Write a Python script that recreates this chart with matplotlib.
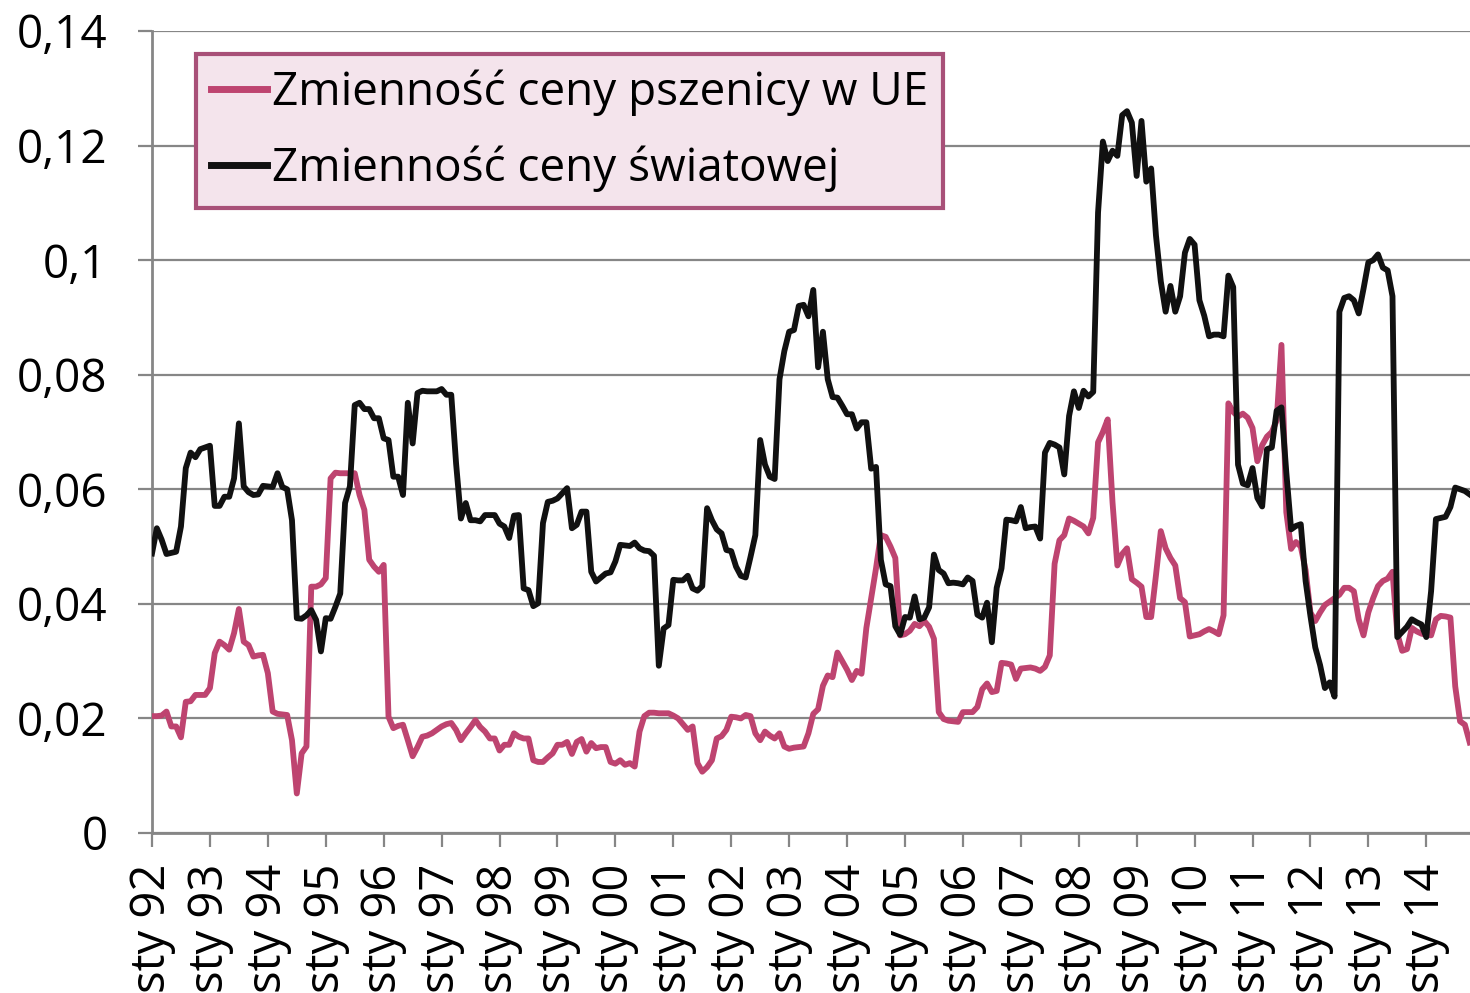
import numpy as np
import matplotlib
matplotlib.use("Agg")
from matplotlib import pyplot as plt

# miesięczne zmienności cen, sty 1992 - paź 2014
eu_vol = [
    0.0204, 0.0204, 0.0205, 0.0212, 0.0186, 0.0186, 0.0167, 0.0229, 0.0230, 0.0241, 0.0241, 0.0241,  # 92
    0.0253, 0.0314, 0.0334, 0.0328, 0.0320, 0.0349, 0.0391, 0.0334, 0.0328, 0.0308, 0.0310, 0.0311,  # 93
    0.0279, 0.0212, 0.0208, 0.0207, 0.0206, 0.0162, 0.0069, 0.0139, 0.0151, 0.0430, 0.0430, 0.0434,  # 94
    0.0445, 0.0619, 0.0629, 0.0628, 0.0628, 0.0628, 0.0628, 0.0590, 0.0564, 0.0477, 0.0465, 0.0456,  # 95
    0.0468, 0.0203, 0.0183, 0.0187, 0.0189, 0.0162, 0.0134, 0.0150, 0.0168, 0.0170, 0.0174, 0.0180,  # 96
    0.0186, 0.0190, 0.0192, 0.0180, 0.0162, 0.0174, 0.0185, 0.0197, 0.0185, 0.0177, 0.0165, 0.0165,  # 97
    0.0144, 0.0154, 0.0154, 0.0174, 0.0168, 0.0165, 0.0165, 0.0127, 0.0124, 0.0124, 0.0132, 0.0139,  # 98
    0.0154, 0.0154, 0.0159, 0.0138, 0.0159, 0.0164, 0.0142, 0.0157, 0.0148, 0.0150, 0.0150, 0.0124,  # 99
    0.0121, 0.0127, 0.0119, 0.0122, 0.0116, 0.0177, 0.0204, 0.0210, 0.0210, 0.0209, 0.0209, 0.0209,  # 00
    0.0205, 0.0200, 0.0190, 0.0180, 0.0186, 0.0122, 0.0107, 0.0115, 0.0127, 0.0165, 0.0169, 0.0180,  # 01
    0.0203, 0.0202, 0.0200, 0.0206, 0.0204, 0.0174, 0.0162, 0.0177, 0.0170, 0.0165, 0.0174, 0.0151,  # 02
    0.0147, 0.0149, 0.0150, 0.0151, 0.0174, 0.0208, 0.0216, 0.0257, 0.0275, 0.0272, 0.0315, 0.0300,  # 03
    0.0285, 0.0267, 0.0283, 0.0278, 0.0358, 0.0410, 0.0462, 0.0520, 0.0517, 0.0500, 0.0480, 0.0345,  # 04
    0.0347, 0.0353, 0.0365, 0.0361, 0.0370, 0.0360, 0.0339, 0.0211, 0.0199, 0.0196, 0.0195, 0.0194,  # 05
    0.0211, 0.0211, 0.0211, 0.0220, 0.0251, 0.0261, 0.0246, 0.0248, 0.0297, 0.0296, 0.0294, 0.0269,  # 06
    0.0287, 0.0288, 0.0289, 0.0287, 0.0283, 0.0290, 0.0310, 0.0470, 0.0511, 0.0520, 0.0549, 0.0545,  # 07
    0.0540, 0.0535, 0.0523, 0.0550, 0.0682, 0.0700, 0.0722, 0.0577, 0.0467, 0.0487, 0.0497, 0.0443,  # 08
    0.0437, 0.0430, 0.0377, 0.0377, 0.0450, 0.0527, 0.0497, 0.0480, 0.0467, 0.0410, 0.0403, 0.0343,  # 09
    0.0345, 0.0347, 0.0352, 0.0356, 0.0352, 0.0347, 0.0380, 0.0750, 0.0735, 0.0727, 0.0732, 0.0725,  # 10
    0.0707, 0.0649, 0.0677, 0.0692, 0.0700, 0.0720, 0.0852, 0.0560, 0.0496, 0.0508, 0.0500, 0.0459,  # 11
    0.0385, 0.0370, 0.0385, 0.0398, 0.0404, 0.0410, 0.0416, 0.0428, 0.0428, 0.0422, 0.0373, 0.0345,  # 12
    0.0385, 0.0410, 0.0431, 0.0440, 0.0444, 0.0456, 0.0348, 0.0318, 0.0321, 0.0358, 0.0352, 0.0348,  # 13
    0.0346, 0.0345, 0.0373, 0.0379, 0.0378, 0.0376, 0.0256, 0.0195, 0.0189, 0.0158,  # 14
]

world_vol = [
    0.0488, 0.0532, 0.0512, 0.0487, 0.0489, 0.0491, 0.0535, 0.0637, 0.0664, 0.0656, 0.0670, 0.0673,  # 92
    0.0676, 0.0571, 0.0571, 0.0587, 0.0587, 0.0619, 0.0715, 0.0605, 0.0595, 0.0590, 0.0591, 0.0606,  # 93
    0.0605, 0.0604, 0.0628, 0.0604, 0.0600, 0.0546, 0.0375, 0.0374, 0.0380, 0.0389, 0.0372, 0.0317,  # 94
    0.0375, 0.0374, 0.0395, 0.0418, 0.0576, 0.0605, 0.0747, 0.0751, 0.0740, 0.0740, 0.0724, 0.0724,  # 95
    0.0689, 0.0686, 0.0622, 0.0622, 0.0590, 0.0751, 0.0680, 0.0768, 0.0772, 0.0771, 0.0771, 0.0771,  # 96
    0.0775, 0.0765, 0.0765, 0.0645, 0.0549, 0.0576, 0.0546, 0.0546, 0.0544, 0.0555, 0.0555, 0.0555,  # 97
    0.0540, 0.0535, 0.0515, 0.0554, 0.0555, 0.0427, 0.0424, 0.0396, 0.0401, 0.0541, 0.0578, 0.0580,  # 98
    0.0584, 0.0593, 0.0602, 0.0532, 0.0538, 0.0561, 0.0561, 0.0456, 0.0439, 0.0446, 0.0453, 0.0455,  # 99
    0.0474, 0.0503, 0.0502, 0.0501, 0.0507, 0.0497, 0.0493, 0.0492, 0.0484, 0.0292, 0.0357, 0.0363,  # 00
    0.0442, 0.0441, 0.0441, 0.0449, 0.0427, 0.0423, 0.0431, 0.0567, 0.0546, 0.0530, 0.0523, 0.0494,  # 01
    0.0492, 0.0465, 0.0449, 0.0446, 0.0482, 0.0520, 0.0686, 0.0643, 0.0622, 0.0618, 0.0792, 0.0841,  # 02
    0.0875, 0.0878, 0.0920, 0.0922, 0.0902, 0.0948, 0.0813, 0.0875, 0.0792, 0.0761, 0.0760, 0.0746,  # 03
    0.0731, 0.0731, 0.0706, 0.0717, 0.0717, 0.0636, 0.0639, 0.0477, 0.0434, 0.0431, 0.0361, 0.0346,  # 04
    0.0377, 0.0376, 0.0413, 0.0373, 0.0376, 0.0394, 0.0486, 0.0459, 0.0453, 0.0436, 0.0437, 0.0436,  # 05
    0.0434, 0.0446, 0.0440, 0.0381, 0.0376, 0.0402, 0.0333, 0.0428, 0.0462, 0.0547, 0.0546, 0.0544,  # 06
    0.0569, 0.0532, 0.0534, 0.0535, 0.0514, 0.0664, 0.0681, 0.0678, 0.0673, 0.0626, 0.0728, 0.0771,  # 07
    0.0742, 0.0772, 0.0762, 0.0770, 0.1083, 0.1207, 0.1173, 0.1191, 0.1182, 0.1253, 0.1260, 0.1240,  # 08
    0.1147, 0.1243, 0.1137, 0.1160, 0.1043, 0.0963, 0.0910, 0.0955, 0.0910, 0.0937, 0.1013, 0.1037,  # 09
    0.1027, 0.0930, 0.0903, 0.0867, 0.0870, 0.0870, 0.0867, 0.0973, 0.0953, 0.0643, 0.0610, 0.0607,  # 10
    0.0637, 0.0585, 0.0570, 0.0670, 0.0673, 0.0737, 0.0743, 0.0630, 0.0530, 0.0536, 0.0539, 0.0440,  # 11
    0.0379, 0.0324, 0.0293, 0.0253, 0.0263, 0.0238, 0.0910, 0.0934, 0.0937, 0.0930, 0.0907, 0.0950,  # 12
    0.0996, 0.1000, 0.1010, 0.0987, 0.0982, 0.0937, 0.0342, 0.0351, 0.0360, 0.0373, 0.0368, 0.0364,  # 13
    0.0342, 0.0422, 0.0548, 0.0550, 0.0552, 0.0569, 0.0603, 0.0600, 0.0597, 0.0591,  # 14
]

x_labels = ["sty %02d" % (y % 100) for y in range(1992, 2015)]
y_ticks = [0, 0.02, 0.04, 0.06, 0.08, 0.1, 0.12, 0.14]
y_labels = ["0", "0,02", "0,04", "0,06", "0,08", "0,1", "0,12", "0,14"]

plt.rcParams['font.family'] = ['Open Sans', 'DejaVu Sans']

W, H = 1470, 993
fig = plt.figure(figsize=(W / 100, H / 100), dpi=100)
ax = fig.add_axes([152 / W, 1 - 833 / H, (W - 152) / W, (833 - 31) / H])

grey = '#868686'
months = np.arange(len(eu_vol))

ax.plot(months, eu_vol, color='#BE4470', lw=4.2, solid_joinstyle='round',
        label='Zmienność ceny pszenicy w UE', zorder=3)
ax.plot(months, world_vol, color='#111111', lw=4.2, solid_joinstyle='round',
        label='Zmienność ceny światowej', zorder=4)

ax.set_xlim(0, 273.06)
ax.set_ylim(0, 0.14)
ax.set_yticks(y_ticks)
ax.set_yticklabels(y_labels)
ax.set_xticks(np.arange(len(x_labels)) * 12)
ax.set_xticklabels(x_labels, rotation=90)

ax.grid(axis='y', color=grey, lw=1.6)
ax.set_axisbelow(True)
for s in ['top', 'right']:
    ax.spines[s].set_visible(False)
for s in ['left', 'bottom']:
    ax.spines[s].set_color(grey)
    ax.spines[s].set_linewidth(2)

ax.tick_params(axis='both', direction='out', length=10, width=1.6,
               color=grey, labelsize=33, labelcolor='black')
ax.tick_params(axis='y', pad=22)
ax.tick_params(axis='x', pad=12, labelsize=34)

leg = ax.legend(loc='upper left', bbox_to_anchor=(196 / W, 1 - 54 / H),
                bbox_transform=fig.transFigure, borderaxespad=0,
                fontsize=33, frameon=True, fancybox=False,
                edgecolor='#A85078', facecolor='#F4E4EC', framealpha=1,
                handlelength=1.22, handletextpad=0.1,
                borderpad=0.33, labelspacing=0.66)
leg.get_frame().set_linewidth(3)
for line in leg.get_lines():
    line.set_linewidth(5)

fig.savefig('out.png', dpi=100)
